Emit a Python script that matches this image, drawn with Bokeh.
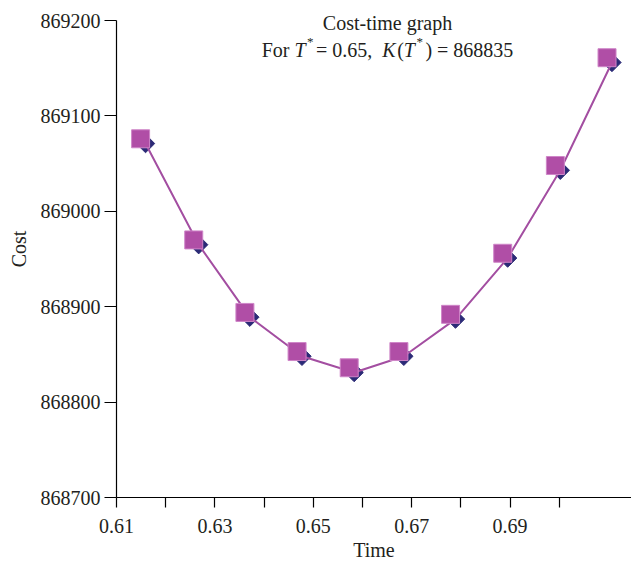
import math
from bokeh.plotting import figure
from bokeh.models import FixedTicker, CustomJSTickFormatter, Label, Range1d
from bokeh.embed import file_html
from bokeh.resources import INLINE

# ---- data ----
time_sq = [0.6149, 0.6257, 0.6361, 0.6467, 0.6573, 0.6674, 0.6779, 0.6885, 0.6992, 0.7097]
cost_sq = [869076, 868970, 868894, 868853, 868836, 868853, 868892, 868956, 869048, 869161]
time_dm = [0.6159, 0.6267, 0.6371, 0.6477, 0.6583, 0.6684, 0.6789, 0.6895, 0.7002, 0.7107]
cost_dm = [869071, 868965, 868889, 868848, 868831, 868848, 868887, 868951, 869043, 869156]

x_ticks = [0.61, 0.62, 0.63, 0.64, 0.65, 0.66, 0.67, 0.68, 0.69, 0.70]
x_tick_labels = ["0.61", "", "0.63", "", "0.65", "", "0.67", "", "0.69", ""]
y_ticks = [868700, 868800, 868900, 869000, 869100, 869200]
y_tick_labels = ["868700", "868800", "868900", "869000", "869100", "869200"]

title_line1 = "Cost-time graph"
title_line2 = [("For ", "normal", 0), ("T", "italic", 0), ("*", "normal", 1),
               (" = 0.65, ", "normal", 0), ("K", "italic", 0), ("(", "normal", 0),
               ("T", "italic", 0), ("*", "normal", 1), (") = 868835", "normal", 0)]

FONT = "Liberation Serif"
TXT = "#231f20"

W_PX, H_PX = 631, 565
LEFT, BOTTOM = 116, 68
px_per_x = 4920.0   # pixels per data unit on x
px_per_y = 0.954    # pixels per data unit on y
x0, y0 = 0.61, 868700
x1 = x0 + (W_PX - LEFT) / px_per_x
y1 = y0 + (H_PX - BOTTOM) / px_per_y

p = figure(width=W_PX, height=H_PX, x_range=Range1d(x0, x1),
           y_range=Range1d(y0, y1), output_backend="svg",
           toolbar_location=None, min_border_left=LEFT, min_border_right=0,
           min_border_top=0, min_border_bottom=BOTTOM)
p.outline_line_color = None
p.grid.visible = False
p.background_fill_color = "white"

fmt_code = """
let best = 0; let d = Infinity;
for (let i = 0; i < tv.length; i++) { const e = Math.abs(tv[i] - tick); if (e < d) { d = e; best = i; } }
return lb[best];
"""
p.xaxis.ticker = FixedTicker(ticks=x_ticks)
p.xaxis.formatter = CustomJSTickFormatter(args=dict(tv=x_ticks, lb=x_tick_labels), code=fmt_code)
p.yaxis.ticker = FixedTicker(ticks=y_ticks)
p.yaxis.formatter = CustomJSTickFormatter(args=dict(tv=y_ticks, lb=y_tick_labels), code=fmt_code)
p.yaxis.bounds = (y_ticks[0], y_ticks[-1])

for ax in (p.xaxis[0], p.yaxis[0]):
    ax.axis_line_color = "black"
    ax.axis_line_width = 1.2
    ax.major_tick_line_color = "black"
    ax.major_tick_line_width = 1.2
    ax.major_tick_in = 0
    ax.minor_tick_line_color = None
    ax.major_label_text_font = FONT
    ax.major_label_text_font_size = "20px"
    ax.major_label_text_color = TXT
    ax.axis_label_text_font = FONT
    ax.axis_label_text_font_size = "20px"
    ax.axis_label_text_font_style = "normal"
    ax.axis_label_text_color = TXT

p.xaxis.major_tick_out = 10
p.yaxis.major_tick_out = 12
p.xaxis.major_label_standoff = 11
p.yaxis.major_label_standoff = 4
p.xaxis.axis_label = "Time"
p.yaxis.axis_label = "Cost"
p.xaxis.axis_label_standoff = 3
p.yaxis.axis_label_standoff = 8

# series
p.scatter(time_dm, cost_dm, marker="square", angle=math.pi / 4, size=13,
          fill_color="#2b2a76", line_color="#2b2a76")
p.line(time_dm, cost_dm, line_color="#a34ea1", line_width=2)
p.scatter(time_sq, cost_sq, marker="square", size=18,
          fill_color="#b04ea6", line_color="#cf86c8", line_width=1)

# title
center_x = x0 + (387 - LEFT) / px_per_x
base1 = 869200 + (20 - 22) / px_per_y
base2 = 869200 + (20 - 49) / px_per_y
FS = 20
p.add_layout(Label(x=center_x, y=base1, text=title_line1, text_align="center",
                   text_baseline="alphabetic", text_font=FONT, text_font_size=f"{FS}px",
                   text_color=TXT))

W = {"F": .556, "o": .5, "r": .333, " ": .25, "=": .564, ".": .25, ",": .25,
     "(": .333, ")": .333, "T": .556, "K": .667, "*": .5}
def width(s, fs):
    return sum(W.get(c, .5) for c in s) * fs

SUP = 13
pieces = []
off = 0.0
for s, st, sup in title_line2:
    fs = SUP if sup else FS
    pieces.append((s, st, sup, fs, off))
    off += width(s, fs) + (1.5 if st == "italic" else 0) + (2.5 if sup else 0)
total = off
for s, st, sup, fs, o in pieces:
    p.add_layout(Label(x=center_x, y=base2, x_offset=o - total / 2, y_offset=8 if sup else 0,
                       text=s, text_align="left", text_baseline="alphabetic",
                       text_font=FONT, text_font_size=f"{fs}px",
                       text_font_style=st, text_color=TXT))

open("out.html", "w").write(file_html(p, INLINE))
